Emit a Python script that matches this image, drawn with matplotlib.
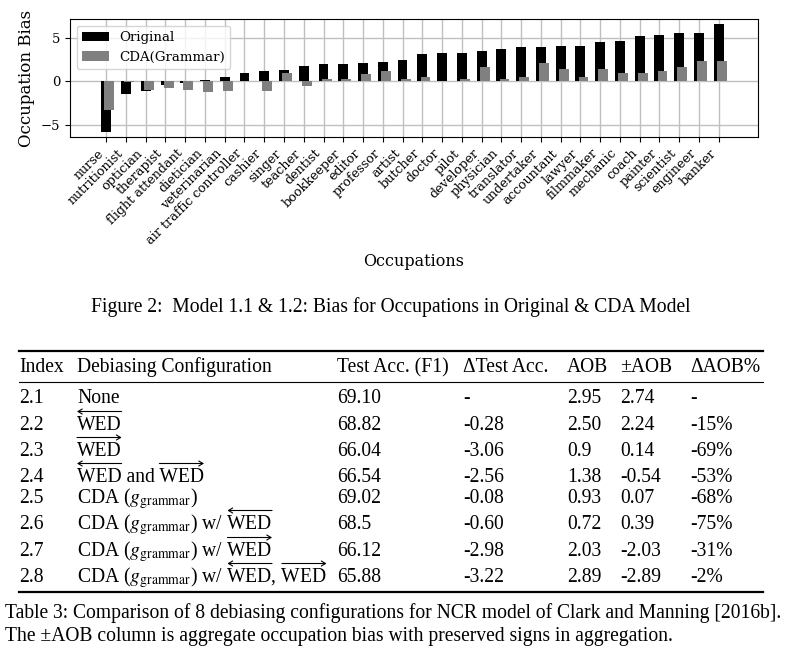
import matplotlib
matplotlib.use("Agg")
import matplotlib.pyplot as plt
import numpy as np
from matplotlib.lines import Line2D

# bar chart data
occupations = ["nurse", "nutritionist", "optician", "therapist", "flight attendant",
               "dietician", "veterinarian", "air traffic controller", "cashier", "singer",
               "teacher", "dentist", "bookkeeper", "editor", "professor", "artist",
               "butcher", "doctor", "pilot", "developer", "physician", "translator",
               "undertaker", "accountant", "lawyer", "filmmaker", "mechanic", "coach",
               "painter", "scientist", "engineer", "banker"]
original_bias = [-5.8, -1.43, -1.08, -0.39, -0.16, 0.12, 0.48, 0.92, 1.19, 1.28,
                 1.77, 1.98, 1.98, 2.08, 2.23, 2.46, 3.15, 3.2, 3.3, 3.43, 3.66,
                 3.89, 3.89, 4.0, 4.1, 4.46, 4.58, 5.16, 5.27, 5.5, 5.5, 6.54]
cda_bias = [-3.27, -0.1, -1.05, -0.74, -0.97, -1.2, -1.08, 0.03, -1.08, 0.95,
            -0.52, 0.25, 0.25, 0.84, 1.19, 0.27, 0.45, 0.03, 0.3, 1.58, 0.2,
            0.43, 2.15, 1.35, 0.43, 1.46, 1.0, 0.89, 1.12, 1.58, 2.27, 2.38]

# table data ("<" / ">" before WED mark a left / right arrow over it)
table_header = ["Index", "Debiasing Configuration", "Test Acc. (F1)", "\u0394Test Acc.",
                "AOB", "\u00b1AOB", "\u0394AOB%"]
table_index = ["2.1", "2.2", "2.3", "2.4", "2.5", "2.6", "2.7", "2.8"]
table_config = ["None", "<WED", ">WED", "<WED and >WED",
                "CDA ($g_{\\mathrm{grammar}}$)",
                "CDA ($g_{\\mathrm{grammar}}$) w/ <WED",
                "CDA ($g_{\\mathrm{grammar}}$) w/ >WED",
                "CDA ($g_{\\mathrm{grammar}}$) w/ <WED, >WED"]
test_acc = ["69.10", "68.82", "66.04", "66.54", "69.02", "68.5", "66.12", "65.88"]
delta_acc = ["-", "-0.28", "-3.06", "-2.56", "-0.08", "-0.60", "-2.98", "-3.22"]
aob = ["2.95", "2.50", "0.9", "1.38", "0.93", "0.72", "2.03", "2.89"]
signed_aob = ["2.74", "2.24", "0.14", "-0.54", "0.07", "0.39", "-2.03", "-2.89"]
delta_aob = ["-", "-15%", "-69%", "-53%", "-68%", "-75%", "-31%", "-2%"]

fig_caption = "Figure 2:  Model 1.1 & 1.2: Bias for Occupations in Original & CDA Model"
table_caption = ["Table 3: Comparison of 8 debiasing configurations for NCR model of Clark and Manning [2016b].",
                 "The \u00b1AOB column is aggregate occupation bias with preserved signs in aggregation."]

W, H = 791, 649
plt.rcParams['font.family'] = 'DejaVu Serif'
plt.rcParams['mathtext.fontset'] = 'stix'
TIMES = 'Liberation Serif'
TS = 14.1

fig = plt.figure(figsize=(W / 100, H / 100), dpi=100)

# ---- bar chart
ax = fig.add_axes([70 / W, 1 - 137 / H, (758 - 70) / W, (137 - 19) / H])
x = np.arange(len(occupations))
ax.bar(x, original_bias, width=0.5, color='black', label='Original')
ax.bar(x + 0.16, cda_bias, width=0.5, color='gray', label='CDA(Grammar)')
ax.set_xticks(x)
ax.set_xticklabels(occupations, rotation=45, ha='right', fontsize=9.2)
ax.set_yticks([-5, 0, 5])
ax.tick_params(axis='y', labelsize=9.5)
ax.grid(True, color='#c0c0c0', lw=1)
ax.set_axisbelow(True)
ax.set_ylabel('Occupation Bias', fontsize=12)
ax.set_xlabel('Occupations', fontsize=11.5)
ax.legend(loc='upper left', fontsize=9.6)

# ---- figure caption
fig.text(391 / W, 1 - 312 / H, fig_caption, ha='center', va='baseline',
         family=TIMES, fontsize=TS)

# ---- table
col_x = [19, 77, 337, 463, 567, 620, 690]
header_base = 372
row_base = [403, 430, 456, 482, 503, 529, 556, 582]

def hline(y, lw):
    fig.add_artist(Line2D([19 / W, 763 / W], [1 - y / H, 1 - y / H], color='black', lw=lw))

hline(351, 1.6)
hline(382, 0.8)
hline(592, 1.6)

for cx, s in zip(col_x, table_header):
    fig.text(cx / W, 1 - header_base / H, s, va='baseline', family=TIMES, fontsize=TS)

renderer = fig.canvas.get_renderer()

def width_of(s):
    t = fig.text(0, 0, s, family=TIMES, fontsize=TS)
    w = t.get_window_extent(renderer).width
    t.remove()
    return w

wed_w = width_of("WED")
columns = [table_index, table_config, test_acc, delta_acc, aob, signed_aob, delta_aob]
for r in range(len(table_index)):
    yb = row_base[r]
    for c, col in enumerate(columns):
        s = col[r]
        if c == 1:
            plain = s.replace("<", "").replace(">", "")
            fig.text(col_x[c] / W, 1 - yb / H, plain, va='baseline', family=TIMES, fontsize=TS)
            # arrows over WED
            for i, ch in enumerate(s):
                if ch in "<>":
                    prefix = s[:i + 4].replace("<", "").replace(">", "")
                    x1 = col_x[c] + width_of(prefix)
                    x0 = x1 - wed_w
                    ya = H - yb + 18.5
                    if ch == "<":
                        xy, xyt = (x0, ya), (x1, ya)
                    else:
                        xy, xyt = (x1, ya), (x0, ya)
                    fig.add_artist(plt.Annotation('', xy=xy, xytext=xyt,
                                                  xycoords='figure pixels',
                                                  textcoords='figure pixels',
                                                  arrowprops=dict(arrowstyle='->,head_length=0.3,head_width=0.18',
                                                                  lw=0.8, shrinkA=0, shrinkB=0)))
        else:
            fig.text(col_x[c] / W, 1 - yb / H, s, va='baseline', family=TIMES, fontsize=TS)

# ---- table caption
fig.text(5 / W, 1 - 618 / H, table_caption[0], va='baseline', family=TIMES, fontsize=TS)
fig.text(5 / W, 1 - 641 / H, table_caption[1], va='baseline', family=TIMES, fontsize=TS)

fig.savefig("out.png", dpi=100)
